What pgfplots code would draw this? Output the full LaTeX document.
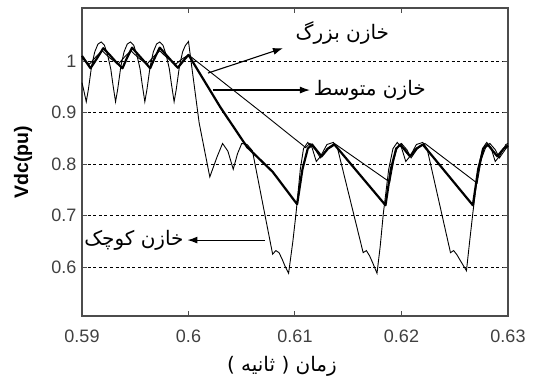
\documentclass[border=0pt]{standalone}
\usepackage{fontspec}
\setmainfont{Liberation Sans}
\newfontfamily\arabicfont[Script=Arabic]{DejaVu Sans}
\usepackage{pgfplots}
\pgfplotsset{compat=1.18}
\usetikzlibrary{arrows.meta}
\TeXXeTstate=1

% DC-link voltage for three capacitor sizes (per unit)
\pgfplotstableread{
t v
0.5900 0.958
0.5902 0.940
0.5904 0.921
0.5906 0.945
0.5909 0.990
0.5912 1.018
0.5915 1.033
0.5918 1.037
0.5921 1.031
0.5924 1.012
0.5927 0.985
0.5929 0.955
0.59315 0.921
0.59335 0.945
0.59365 0.990
0.59395 1.018
0.59425 1.033
0.59455 1.037
0.59485 1.031
0.59515 1.012
0.59545 0.985
0.59565 0.955
0.5959 0.921
0.5961 0.945
0.5964 0.990
0.5967 1.018
0.5970 1.033
0.5973 1.037
0.5976 1.031
0.5979 1.012
0.5982 0.985
0.5984 0.955
0.59865 0.921
0.59885 0.945
0.59915 0.990
0.59945 1.018
0.5997 1.030
0.6000 1.038
0.6003 0.990
0.6010 0.880
0.6020 0.775
0.6027 0.815
0.6032 0.840
0.6037 0.825
0.6042 0.790
0.6046 0.820
0.6050 0.840
0.6055 0.838
0.6060 0.826
0.6070 0.720
0.6079 0.625
0.6082 0.632
0.6085 0.628
0.6088 0.615
0.6091 0.600
0.6094 0.588
0.6098 0.650
0.6101 0.705
0.6105 0.790
0.6108 0.830
0.6112 0.842
0.6116 0.832
0.6120 0.805
0.6124 0.815
0.6130 0.838
0.6136 0.842
0.6140 0.830
0.6164 0.628
0.6167 0.632
0.6170 0.622
0.6173 0.608
0.6177 0.588
0.6180 0.640
0.6183 0.705
0.6188 0.790
0.6192 0.830
0.6196 0.842
0.6200 0.832
0.6204 0.805
0.6208 0.815
0.6214 0.838
0.6220 0.842
0.6224 0.830
0.6246 0.628
0.6249 0.632
0.6252 0.624
0.6256 0.610
0.6261 0.593
0.6264 0.650
0.6267 0.705
0.6272 0.790
0.6276 0.830
0.6280 0.842
0.6284 0.832
0.6288 0.805
0.6292 0.815
0.6298 0.838
0.6300 0.840
}\smallcap

\pgfplotstableread{
t v
0.5900 1.010
0.5908 0.986
0.5914 1.005
0.5920 1.025
0.5926 1.012
0.5932 0.998
0.5938 0.986
0.5942 1.005
0.5947 1.026
0.5953 1.012
0.5959 0.998
0.5964 0.986
0.5968 1.005
0.5973 1.026
0.5979 1.012
0.5985 0.998
0.5990 0.987
0.5995 1.000
0.6000 1.012
0.6030 0.910
0.6055 0.833
0.6079 0.785
0.6102 0.722
0.6107 0.790
0.6112 0.830
0.6116 0.838
0.6121 0.825
0.6125 0.815
0.6131 0.830
0.6137 0.838
0.6185 0.720
0.6190 0.790
0.6195 0.830
0.6199 0.838
0.6204 0.825
0.6208 0.815
0.6214 0.830
0.6220 0.838
0.6267 0.720
0.6272 0.790
0.6277 0.830
0.6281 0.838
0.6286 0.825
0.6290 0.815
0.6296 0.830
0.6300 0.836
}\mediumcap

\pgfplotstableread{
t v
0.5900 1.005
0.5907 0.994
0.5913 1.008
0.5919 1.020
0.5926 1.006
0.5934 0.994
0.5940 1.008
0.5946 1.020
0.5953 1.006
0.5961 0.994
0.5967 1.008
0.5973 1.020
0.5980 1.006
0.5988 0.994
0.5994 1.004
0.6000 1.012
0.6067 0.903
0.6110 0.832
0.6114 0.840
0.6119 0.828
0.6124 0.812
0.6130 0.830
0.6137 0.840
0.6189 0.765
0.6193 0.810
0.6196 0.832
0.6200 0.840
0.6205 0.828
0.6209 0.812
0.6215 0.830
0.6222 0.840
0.6271 0.763
0.6275 0.810
0.6279 0.832
0.6283 0.840
0.6288 0.828
0.6292 0.812
0.6298 0.830
0.6300 0.834
}\largecap

\begin{document}
\begin{tikzpicture}
\useasboundingbox (-82pt,-67pt) rectangle (451pt,316pt);
\begin{axis}[
  scale only axis, width=426pt, height=308pt,
  xmin=0.59, xmax=0.63, ymin=0.505, ymax=1.103,
  clip=false,
  xtick={0.59,0.6,0.61,0.62,0.63},
  xticklabels={0.59,0.6,0.61,0.62,0.63},
  ytick={0.6,0.7,0.8,0.9,1},
  yticklabels={0.6,0.7,0.8,0.9,1},
  ymajorgrids,
  grid style={black, line width=1pt, dash pattern=on 3pt off 2.6pt},
  tick align=inside, tick pos=both, major tick length=5pt,
  axis line style={black!70, line width=1.3pt},
  tick style={black!70, line width=1pt},
  ticklabel style={font=\fontsize{18}{20}\selectfont, text=black!75},
  yticklabel style={xshift=-2pt},
  xticklabel style={yshift=-10pt},
]
\addplot[black, line width=0.9pt] table[x=t, y=v] {\largecap};
\addplot[black, line width=0.9pt] table[x=t, y=v] {\smallcap};
\addplot[black, line width=2.2pt, line join=round] table[x=t, y=v] {\mediumcap};

% annotations
\draw[-{Latex[length=10pt,width=7pt]}, line width=1.1pt] (axis cs:0.60183,0.9767) -- (axis cs:0.60887,1.025);
\draw[-{Latex[length=10pt,width=7pt]}, line width=1.1pt] (axis cs:0.6023,0.9437) -- (axis cs:0.6114,0.9437);
\draw[-{Latex[length=10pt,width=7pt]}, line width=1.1pt] (axis cs:0.6072,0.6524) -- (axis cs:0.5999,0.6524);
\node[anchor=west, inner sep=1pt, font=\arabicfont\fontsize{20}{22}\selectfont] at (axis cs:0.60995,1.054) {\beginR خازن بزرگ\endR};
\node[anchor=west, inner sep=1pt, font=\arabicfont\fontsize{20}{22}\selectfont] at (axis cs:0.61165,0.9437) {\beginR خازن متوسط\endR};
\node[anchor=east, fill=white, inner sep=1pt, font=\arabicfont\fontsize{20}{22}\selectfont] at (axis cs:0.59965,0.6524) {\beginR خازن کوچک\endR};

\node[xshift=-59pt, rotate=90, anchor=center, font=\fontsize{19.5}{22}\selectfont\bfseries] at (rel axis cs:0,0.5) {Vdc(pu)};
\node[anchor=west, inner sep=0pt, font=\arabicfont\fontsize{20}{22}\selectfont] at ([yshift=-50pt]rel axis cs:0.340,0) {\beginR زمان ( ثانیه )\endR};
\end{axis}
\end{tikzpicture}
\end{document}
